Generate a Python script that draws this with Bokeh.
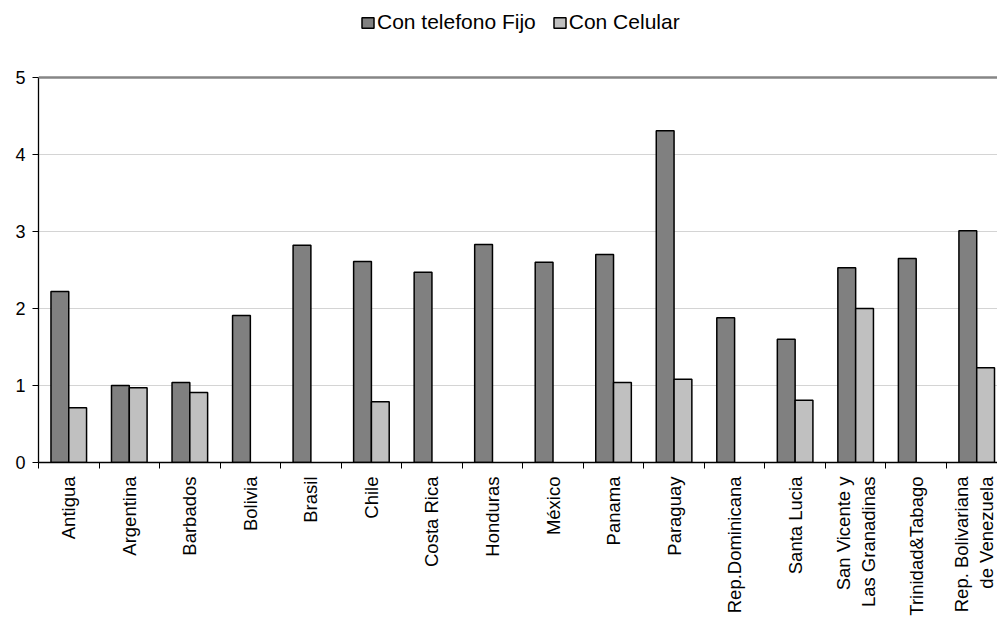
import numpy as np
from bokeh.plotting import figure
from bokeh.models import ColumnDataSource, FixedTicker, Range1d, Legend, LegendItem, Span
from bokeh.embed import file_html
from bokeh.resources import INLINE

# ---- data ----
countries = ["Antigua", "Argentina", "Barbados", "Bolivia", "Brasil", "Chile",
             "Costa Rica", "Honduras", "México", "Panama", "Paraguay",
             "Rep.Dominicana", "Santa Lucia", "San Vicente y\nLas Granadinas",
             "Trinidad&Tabago", "Rep. Bolivariana\nde Venezuela"]
fijo = [2.22, 1.00, 1.04, 1.91, 2.82, 2.61, 2.47, 2.83, 2.60, 2.70, 4.31,
        1.88, 1.60, 2.53, 2.65, 3.01]
celular = [0.71, 0.97, 0.91, None, None, 0.79, None, None, None, 1.04, 1.08,
           None, 0.81, 2.00, None, 1.23]
y_ticks = [0, 1, 2, 3, 4, 5]
y_max = 5
series_names = ["Con telefono Fijo", "Con Celular"]

# ---- layout ----
W, H = 997, 620
BL, BR, BT, BB = 38, 0, 0, 158
cat_px = 60.53
frame_w = W - BL - BR
frame_h = H - BT - BB
top_px = 77            # pixel offset of y_max from frame top
unit_px = (frame_h - top_px) / y_max
FONT = "Liberation Sans"

n = len(countries)
centers = np.arange(n) + 0.5
off = 0.147
bw = 0.294

src_f = ColumnDataSource(dict(x=centers - off, top=fijo))
cx = [c + off for c, v in zip(centers, celular) if v is not None]
cv = [v for v in celular if v is not None]
src_c = ColumnDataSource(dict(x=cx, top=cv))

p = figure(width=W, height=H, output_backend="svg", toolbar_location=None,
           x_range=Range1d(0, frame_w / cat_px),
           y_range=Range1d(0, frame_h / unit_px),
           min_border_left=BL, min_border_right=BR, min_border_top=BT,
           min_border_bottom=BB)
p.outline_line_color = None
p.background_fill_color = "white"
p.border_fill_color = "white"

# grid
p.xgrid.visible = False
p.ygrid.ticker = FixedTicker(ticks=[1, 2, 3, 4])
p.ygrid.grid_line_color = "#d4d4d4"
p.ygrid.grid_line_width = 1
p.add_layout(Span(location=y_max, dimension="width", line_color="#868686", line_width=2.5))

r1 = p.vbar(x="x", top="top", width=bw, bottom=0, source=src_f,
            fill_color="#808080", line_color="black", line_width=1.5)
r2 = p.vbar(x="x", top="top", width=bw, bottom=0, source=src_c,
            fill_color="#c0c0c0", line_color="black", line_width=1.5)

# x axis
xa = p.xaxis[0]
xa.axis_label = None
xa.ticker = FixedTicker(ticks=list(centers), minor_ticks=list(np.arange(n + 1)))
xa.major_label_overrides = {float(c): name for c, name in zip(centers, countries)}
xa.major_tick_out = 0
xa.major_tick_in = 0
xa.minor_tick_out = 6
xa.minor_tick_in = 0
xa.minor_tick_line_color = "black"
xa.axis_line_color = "black"
xa.axis_line_width = 1.3
xa.major_label_orientation = np.pi / 2
xa.major_label_standoff = 8
xa.major_label_text_font = FONT
xa.major_label_text_font_size = "18.5px"
xa.major_label_text_color = "black"

# y axis
ya = p.yaxis[0]
ya.axis_label = None
ya.ticker = FixedTicker(ticks=y_ticks)
ya.bounds = (0, y_max)
ya.major_tick_out = 6
ya.major_tick_in = 0
ya.minor_tick_line_color = None
ya.axis_line_color = "black"
ya.axis_line_width = 1.3
ya.major_tick_line_color = "black"
ya.major_label_standoff = 7
ya.major_label_text_font = FONT
ya.major_label_text_font_size = "18px"
ya.major_label_text_color = "black"

legend = Legend(items=[LegendItem(label=series_names[0], renderers=[r1]),
                       LegendItem(label=series_names[1], renderers=[r2])],
                orientation="horizontal", location=(322, frame_h - 34),
                border_line_alpha=0, background_fill_alpha=0,
                padding=0, margin=0, spacing=16,
                glyph_width=15, glyph_height=13, label_standoff=2,
                label_text_font=FONT, label_text_font_size="21px",
                label_text_color="black", label_height=20)
p.add_layout(legend)

open("out.html", "w").write(file_html(p, INLINE))
